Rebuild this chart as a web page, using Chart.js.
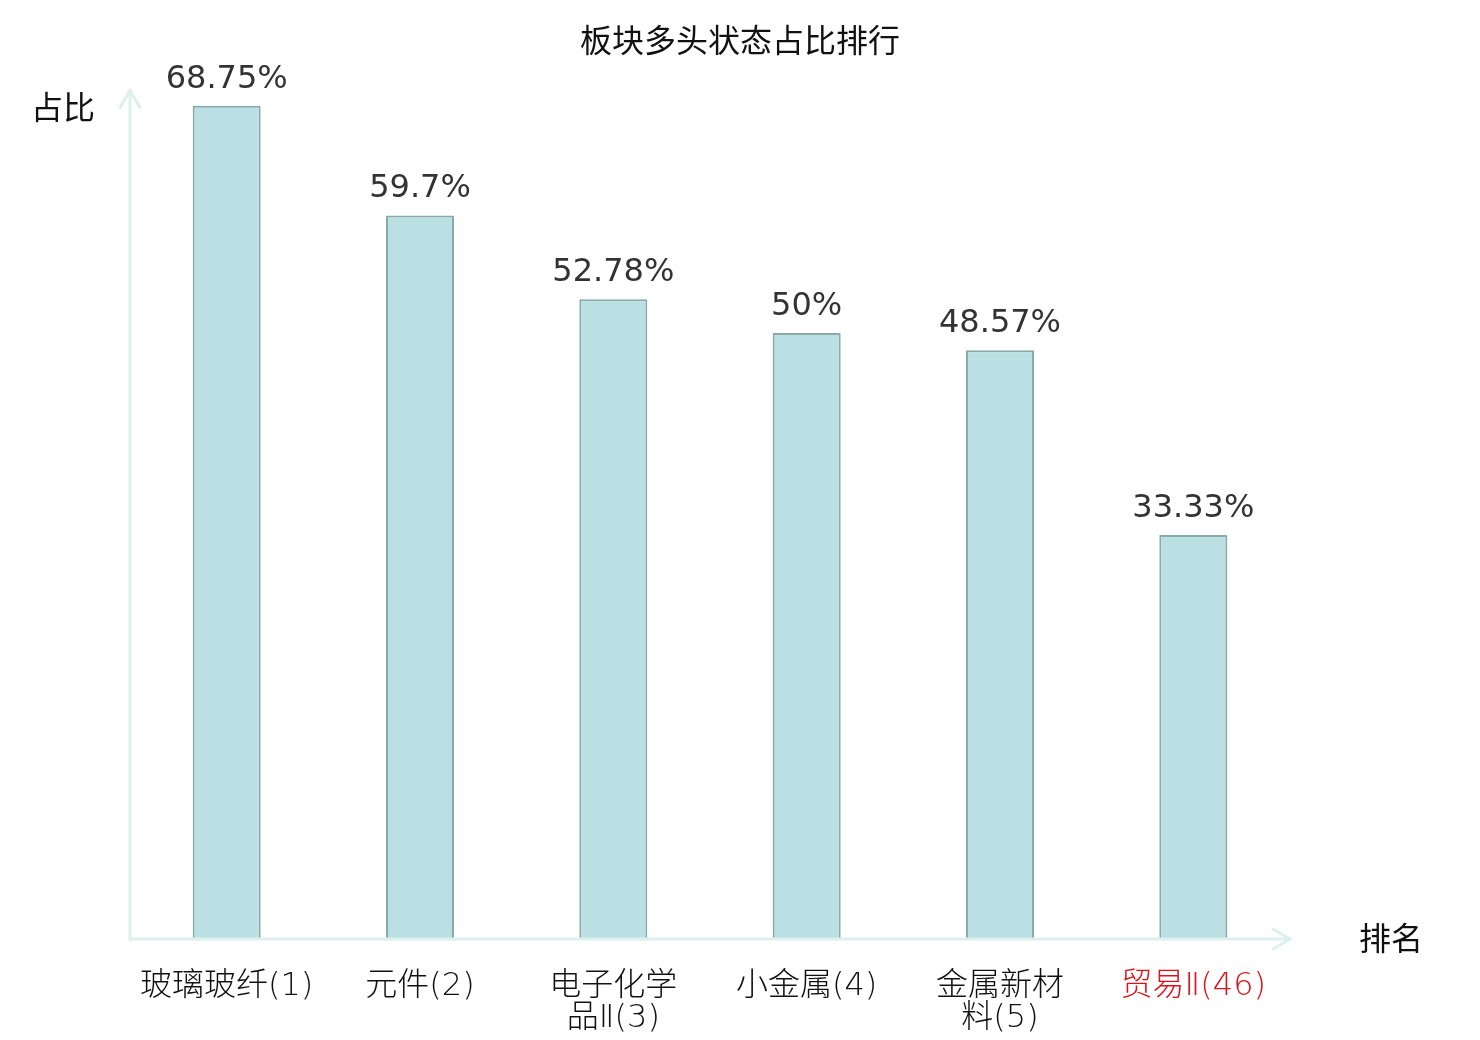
<!DOCTYPE html>
<html><head><meta charset="utf-8">
<script src="https://cdn.jsdelivr.net/npm/chart.js@4"></script>
<style>html,body{margin:0;padding:0;background:#fff}#wrap{width:1480px;height:1040px}</style>
</head><body><div id="wrap"><canvas id="c"></canvas></div>
<script>
const categories = [["玻璃玻纤(1)"], ["元件(2)"], ["电子化学", "品Ⅱ(3)"], ["小金属(4)"], ["金属新材", "料(5)"], ["贸易Ⅱ(46)"]];
const values = [68.75, 59.7, 52.78, 50, 48.57, 33.33];
const valueLabels = ["68.75%", "59.7%", "52.78%", "50%", "48.57%", "33.33%"];
const tickColors = ["#111", "#111", "#111", "#111", "#111", "#dd1219"];
const chartTitle = "板块多头状态占比排行";
const yTitle = "占比";
const xTitle = "排名";
const FONT = "'DejaVu Sans', 'Noto Sans CJK SC', sans-serif";

const deco = {
  id: 'deco',
  afterDatasetsDraw(chart) {
    const ctx = chart.ctx, a = chart.chartArea;
    ctx.save();
    // axes
    ctx.strokeStyle = '#dcf1ee'; ctx.lineWidth = 3; ctx.lineCap = 'round';
    const x0 = a.left, y0 = a.bottom;
    ctx.beginPath(); ctx.moveTo(x0, y0); ctx.lineTo(x0, a.top); ctx.stroke();
    ctx.beginPath(); ctx.moveTo(x0 - 10, a.top + 17); ctx.lineTo(x0, a.top); ctx.lineTo(x0 + 10, a.top + 17); ctx.stroke();
    ctx.beginPath(); ctx.moveTo(x0, y0); ctx.lineTo(a.right, y0); ctx.stroke();
    ctx.beginPath(); ctx.moveTo(a.right - 17, y0 - 10); ctx.lineTo(a.right, y0); ctx.lineTo(a.right - 17, y0 + 10); ctx.stroke();
    // value labels
    const meta = chart.getDatasetMeta(0);
    ctx.fillStyle = '#333'; ctx.font = '32px ' + FONT; ctx.textAlign = 'center'; ctx.textBaseline = 'alphabetic';
    meta.data.forEach((bar, i) => { ctx.fillText(valueLabels[i], bar.x, bar.y - 18); });
    // titles
    ctx.fillStyle = '#111'; ctx.textBaseline = 'middle';
    ctx.font = '32px ' + FONT;
    ctx.fillText(chartTitle, 740, 44);
    ctx.fillText(yTitle, 63, 111);
    ctx.fillText(xTitle, 1391, 942);
    ctx.restore();
  }
};

new Chart(document.getElementById('c'), {
  type: 'bar',
  data: {
    labels: categories,
    datasets: [{
      data: values,
      backgroundColor: '#bbe0e3',
      borderColor: '#8aa9aa',
      borderWidth: 2,
      barPercentage: 0.352,
      categoryPercentage: 1
    }]
  },
  options: {
    responsive: true, maintainAspectRatio: false, animation: false,
    devicePixelRatio: 1,
    layout: { padding: { left: 130, right: 190, top: 90.6, bottom: 0 } },
    plugins: { legend: { display: false }, tooltip: { enabled: false } },
    scales: {
      y: { display: false, min: 0, max: 70 },
      x: {
        grid: { display: false }, border: { display: false },
        ticks: { color: (c) => tickColors[c.index], font: { size: 32, family: FONT, weight: '200', lineHeight: 1.0 }, padding: 24, maxRotation: 0, autoSkip: false },
        afterFit(s) { s.height = 101; }
      }
    }
  },
  plugins: [deco]
});
</script></body></html>
